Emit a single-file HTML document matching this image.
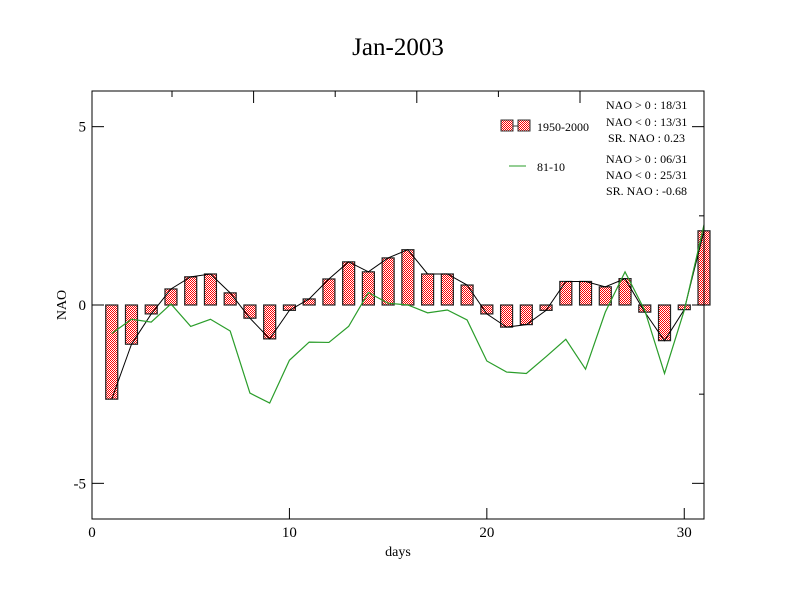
<!DOCTYPE html>
<html><head><meta charset="utf-8"><style>
body{margin:0;background:#fff;}
svg{display:block;font-family:"Liberation Serif",serif;}
</style></head><body>
<svg id="chart" width="792" height="612" viewBox="0 0 792 612">
<defs>
<pattern id="chk" width="2" height="2" patternUnits="userSpaceOnUse">
<rect width="2" height="2" fill="#fff"/><rect width="1" height="1" fill="#f00"/><rect x="1" y="1" width="1" height="1" fill="#f00"/>
</pattern>
</defs>
<rect width="792" height="612" fill="#fff"/>
<text x="398" y="55" font-size="25" text-anchor="middle">Jan-2003</text>
<g id="marks"></g>
<rect x="92" y="91" width="612" height="428" fill="none" stroke="#000" stroke-width="1"/>
<g id="axes"></g>
<text x="398" y="556" font-size="14" text-anchor="middle">days</text>
<text x="66" y="305" font-size="14" text-anchor="middle" transform="rotate(-90 66 305)">NAO</text>
<g>
<rect x="501" y="120" width="12" height="11" fill="url(#chk)" stroke="#333"/>
<line x1="513" y1="126" x2="518" y2="126" stroke="#333"/>
<rect x="518" y="120" width="12" height="11" fill="url(#chk)" stroke="#333"/>
<text x="537" y="131" font-size="12">1950-2000</text>
<line x1="509" y1="166" x2="526" y2="166" stroke="#2a9d2a"/>
<text x="537" y="171" font-size="12">81-10</text>
<g font-size="12">
<text x="606" y="109">NAO &gt; 0 : 18/31</text>
<text x="606" y="126">NAO &lt; 0 : 13/31</text>
<text x="608" y="142">SR. NAO :  0.23</text>
<text x="606" y="163">NAO &gt; 0 : 06/31</text>
<text x="606" y="179">NAO &lt; 0 : 25/31</text>
<text x="606" y="195">SR. NAO : -0.68</text>
</g>
</g>
</svg>
<script>
const days=[1,2,3,4,5,6,7,8,9,10,11,12,13,14,15,16,17,18,19,20,21,22,23,24,25,26,27,28,29,30,31];
const nao5000=[-2.64,-1.1,-0.25,0.45,0.79,0.87,0.34,-0.37,-0.95,-0.15,0.17,0.73,1.21,0.93,1.32,1.55,0.87,0.87,0.56,-0.25,-0.62,-0.55,-0.15,0.66,0.66,0.51,0.74,-0.2,-1.0,-0.13,2.08];
const nao8110=[-0.8,-0.4,-0.48,0.03,-0.6,-0.4,-0.73,-2.47,-2.75,-1.55,-1.04,-1.05,-0.6,0.35,0.05,0.0,-0.22,-0.14,-0.42,-1.57,-1.88,-1.92,-1.45,-0.96,-1.8,-0.2,0.93,-0.15,-1.92,-0.15,2.25];
const xTicks=[0,10,20,30];
const yTicks=[-5,0,5];
const yRightTicks=[-5,-2.5,0,2.5,5];
const NS="http://www.w3.org/2000/svg";
const X=v=>92+v*(612/31);
const Y=v=>305-v*(214/6);
function mk(t,a,p){const e=document.createElementNS(NS,t);for(const k in a)e.setAttribute(k,a[k]);p.appendChild(e);return e;}
const marks=document.getElementById('marks'),axes=document.getElementById('axes');
days.forEach((d,i)=>{const v=nao5000[i];const y0=Math.min(Y(0),Y(v)),h=Math.abs(Y(v)-Y(0));
const r=mk('rect',{x:X(d)-6,y:y0,width:12,height:h,fill:'url(#chk)',stroke:'#222','stroke-width':1.2},marks);

});
const p1=mk('polyline',{points:days.map((d,i)=>X(d)+','+Y(nao5000[i])).join(' '),fill:'none',stroke:'#000','stroke-width':1},marks);


const p2=mk('polyline',{points:days.map((d,i)=>X(d)+','+Y(nao8110[i])).join(' '),fill:'none',stroke:'#2a9d2a','stroke-width':1.2},marks);


xTicks.forEach(t=>{const x=X(t);
mk('line',{x1:x,y1:519,x2:x,y2:508,stroke:'#000'},axes);
const tx=mk('text',{x:x,y:537,'font-size':15,'text-anchor':'middle'},axes);tx.textContent=t;

});
for(let k=0;k<6;k++){const x=172+k*81.6;const major=(k%2===1);
mk('line',{x1:x,y1:91,x2:x,y2:major?103:97,stroke:'#000'},axes);}
yTicks.forEach(t=>{const y=Y(t);
mk('line',{x1:92,y1:y,x2:104,y2:y,stroke:'#000'},axes);
const tx=mk('text',{x:86,y:y+5,'font-size':15,'text-anchor':'end'},axes);tx.textContent=t;

});
yRightTicks.forEach(t=>{const y=Y(t);const major=Number.isInteger(t);
mk('line',{x1:major?692:699,y1:y,x2:704,y2:y,stroke:'#000'},axes);});
</script>
</body></html>
